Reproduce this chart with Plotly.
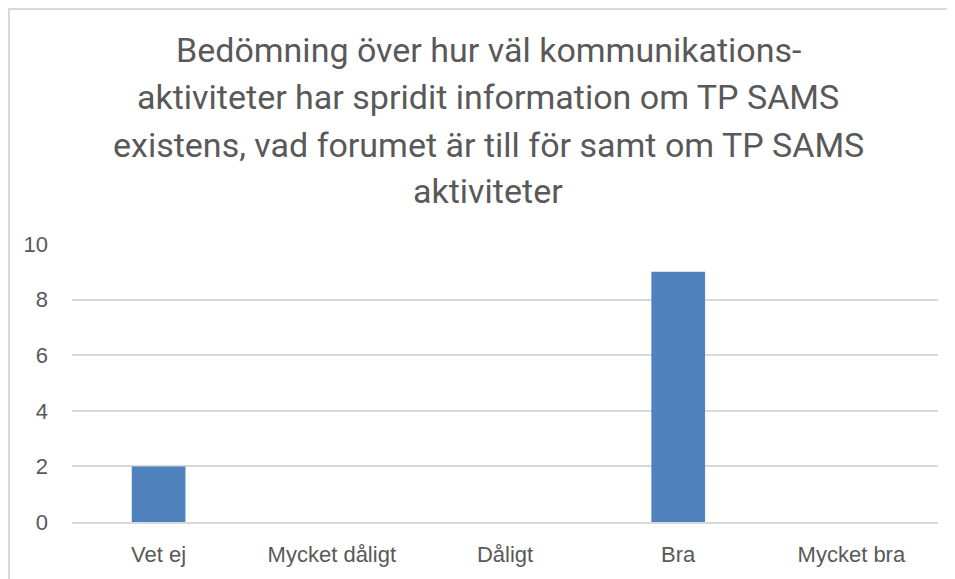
import plotly.graph_objects as go

categories = ["Vet ej", "Mycket dåligt", "Dåligt", "Bra", "Mycket bra"]
values = [2, 0, 0, 9, 0]
y_ticks = [0, 2, 4, 6, 8, 10]
title_lines = [
    "Bedömning över hur väl kommunikations-",
    "aktiviteter har spridit information om TP SAMS",
    "existens, vad forumet är till för samt om TP SAMS",
    "aktiviteter",
]

OFF = 8  # page body margin
W, H = 955 - OFF, 579 - OFF
L, T = 72 - OFF, 244 - OFF
R = W - (938 - OFF)
B = H - (522 - OFF)
pw, ph = W - L - R, H - T - B

fig = go.Figure(go.Bar(x=categories, y=values, marker=dict(color="#4F81BD", line=dict(width=0))))

font_fam = "Roboto, sans-serif"
line_centers = [50, 97, 145, 191]
annotations = []
for txt, yc in zip(title_lines, line_centers):
    annotations.append(dict(
        text=txt, xref="paper", yref="paper",
        x=(488 - OFF - L) / pw, y=(H - B - (yc - OFF)) / ph,
        xanchor="center", yanchor="middle", showarrow=False,
        font=dict(family=font_fam, size=34, color="#595959"),
    ))

border_px = 1.0  # figure-pixel position of the frame line
fig.update_layout(
    width=W, height=H,
    margin=dict(l=L, r=R, t=T, b=B),
    paper_bgcolor="white", plot_bgcolor="white",
    bargap=0.69, showlegend=False,
    annotations=annotations,
    font=dict(family="Liberation Sans, Arial, sans-serif", color="#595959", size=22),
    shapes=[dict(type="rect", xref="paper", yref="paper",
                 x0=(border_px - L) / pw, x1=1.2, y0=-0.5, y1=(H - B - border_px) / ph,
                 line=dict(color="#d9d9d9", width=2), layer="below")],
)
fig.update_xaxes(showgrid=False, showline=True, linecolor="#d9d9d9", linewidth=2,
                 ticks="", ticklabelstandoff=12, tickfont=dict(size=22, color="#595959"))
fig.update_yaxes(range=[0, 10], tickvals=y_ticks, showgrid=True, gridcolor="#d9d9d9",
                 gridwidth=2, zeroline=False, showline=False, ticks="",
                 ticklabelstandoff=23, tickfont=dict(size=22, color="#595959"))

fig.write_html("out.html")
